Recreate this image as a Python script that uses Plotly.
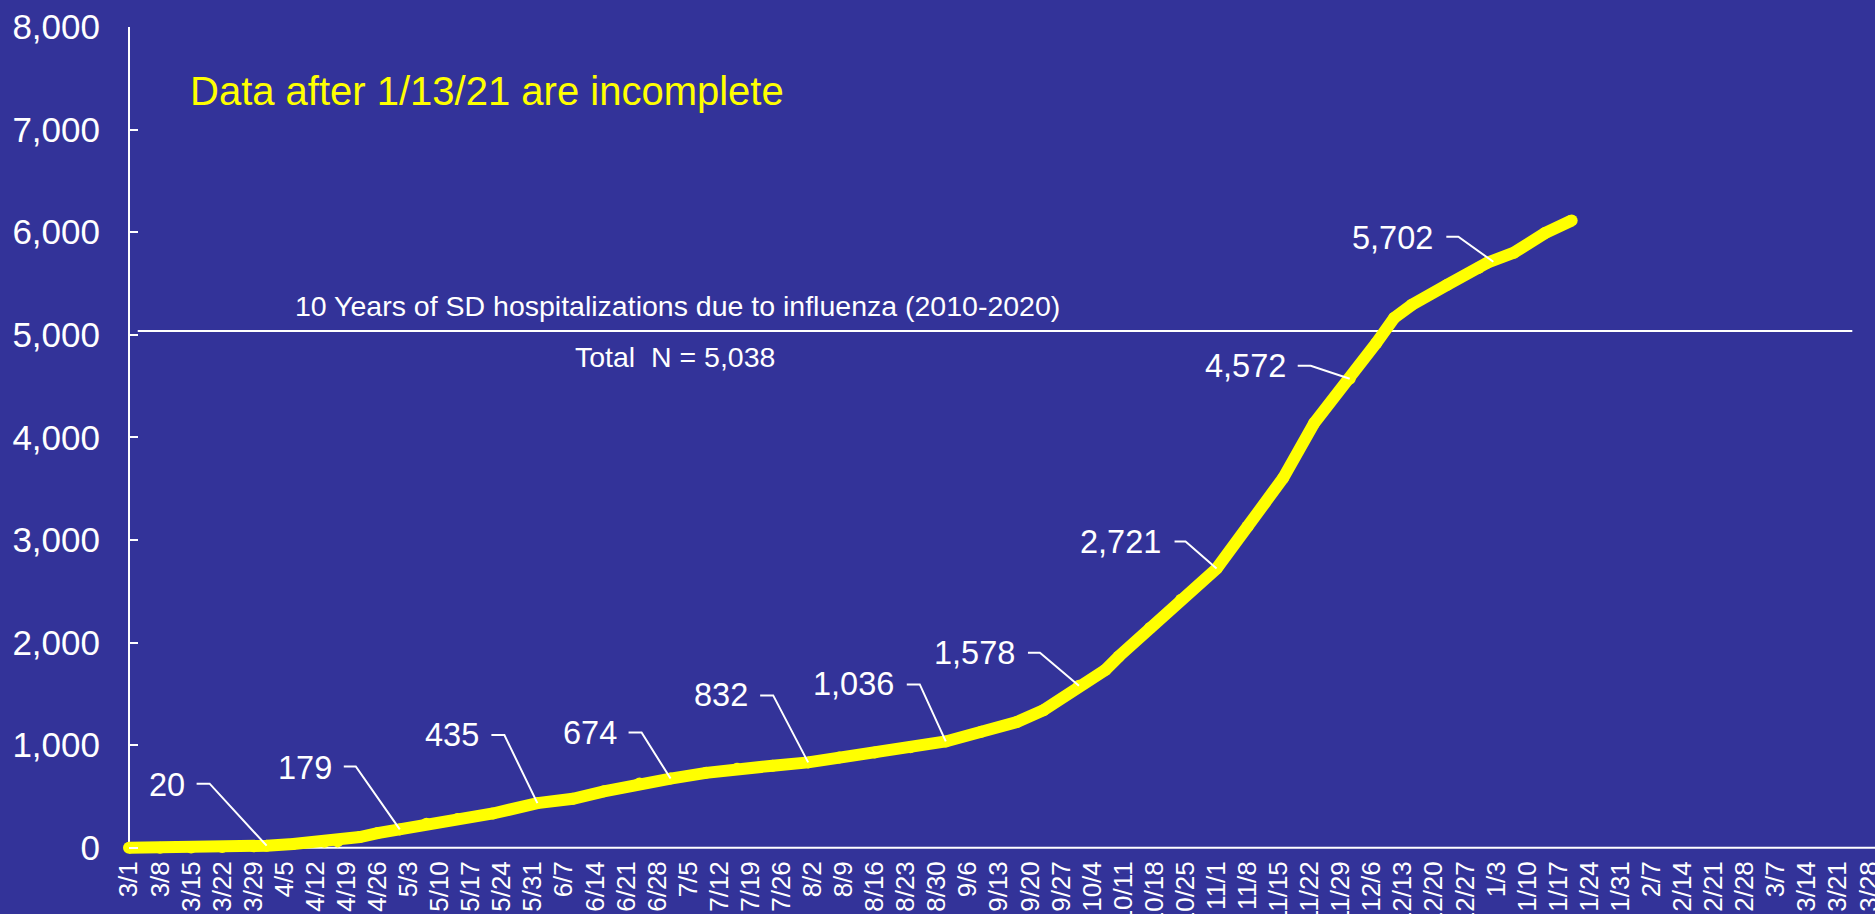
import plotly.graph_objects as go

# ---- data ----
dates = ["2020-03-01", "2020-03-08", "2020-03-15", "2020-03-22", "2020-03-29", "2020-04-01",
         "2020-04-07", "2020-04-14", "2020-04-17", "2020-04-22", "2020-04-26", "2020-05-01",
         "2020-05-07", "2020-05-14", "2020-05-22", "2020-06-01", "2020-06-09", "2020-06-16",
         "2020-06-24", "2020-07-01", "2020-07-09", "2020-07-16", "2020-07-24", "2020-08-01",
         "2020-08-08", "2020-08-16", "2020-08-24", "2020-09-01", "2020-09-09", "2020-09-17",
         "2020-09-23", "2020-10-01", "2020-10-07", "2020-10-10", "2020-10-17", "2020-10-24",
         "2020-11-01", "2020-11-08", "2020-11-16", "2020-11-23", "2020-12-01", "2020-12-07",
         "2020-12-11", "2020-12-15", "2020-12-23", "2020-12-30", "2021-01-01", "2021-01-07",
         "2021-01-14", "2021-01-20"]
cumulative = [0, 1, 3, 7, 14, 20,
              36, 58, 62, 104, 143, 179,
              234, 279, 334, 435, 477, 550,
              626, 674, 730, 770, 800, 832,
              880, 929, 980, 1036, 1130, 1225,
              1340, 1578, 1735, 1865, 2141, 2417,
              2721, 3132, 3603, 4139, 4572, 4920,
              5164, 5292, 5487, 5650, 5702, 5800,
              5991, 6114]

label_dates = ["2020-04-01", "2020-05-01", "2020-06-01", "2020-07-01", "2020-08-01",
               "2020-09-01", "2020-10-01", "2020-11-01", "2020-12-01", "2021-01-01"]
label_values = [20, 179, 435, 674, 832, 1036, 1578, 2721, 4572, 5702]

flu_total = 5038
title_text = "Data after 1/13/21 are incomplete"
flu_text = "10 Years of SD hospitalizations due to influenza (2010-2020)"
flu_total_text = "Total\u00a0 N = 5,038"

# ---- styling / leader-line geometry (pixels, relative to labelled point) ----
BG = "#333399"
YEL = "#FFFF00"
FONT = "Liberation Sans, Arial, sans-serif"
# (segment start dx, elbow dx, elbow dy, end dx, end dy, text right dx, text dy)
leader = [(-70, -57, 62, 0, 0, -80, 61),
          (-56, -44, 63, 0, 0, -66, 61),
          (-46, -33, 68, 0, 0, -56, 68),
          (-42, -29, 46, 0, 0, -52, 46),
          (-48, -35, 67, 0, 0, -58, 67),
          (-39, -26, 57, 0, 0, -50, 57),
          (-51, -39, 33, 0, 0, -62, 33),
          (-42, -31, 27, 0, 0, -54, 27),
          (-52, -39, 13, 0, 0, -62, 13),
          (-41, -29, 26, 6, 1, -52, 25)]

fig = go.Figure()
fig.add_trace(go.Scatter(
    x=dates, y=cumulative, mode="lines+markers",
    line=dict(color=YEL, width=12),
    marker=dict(color=YEL, size=12),
    cliponaxis=False, showlegend=False, hoverinfo="x+y"))

for d, v, g in zip(label_dates, label_values, leader):
    sx, ex, ey, px, py, tx, ty = g
    fig.add_shape(type="path", xref="x", yref="y",
                  xsizemode="pixel", ysizemode="pixel",
                  xanchor=d, yanchor=v,
                  path=f"M {sx},{ey} L {ex},{ey} L {px},{py}",
                  line=dict(color="white", width=2), layer="above")
    fig.add_annotation(x=d, y=v, xref="x", yref="y", text=f"{v:,}",
                       showarrow=False, xanchor="right", yanchor="middle",
                       xshift=tx, yshift=ty,
                       font=dict(family=FONT, size=32.5, color="white"))

# axis lines (drawn as shapes so the thick curve is not clipped at zero)
fig.add_shape(type="line", xref="paper", yref="y", x0=0, x1=1, y0=0, y1=0,
              line=dict(color="white", width=2), layer="below")
fig.add_shape(type="line", xref="paper", yref="y", x0=0, x1=0, y0=0, y1=8000,
              line=dict(color="white", width=2), layer="below")

# influenza reference line
fig.add_shape(type="line", xref="paper", yref="y", x0=0.005, x1=0.987,
              y0=flu_total, y1=flu_total, line=dict(color="white", width=2),
              layer="below")
fig.add_annotation(x=0.314, y=0.664, xref="paper", yref="y domain", text=flu_text,
                   showarrow=False, xanchor="center", yanchor="middle",
                   font=dict(family=FONT, size=28.5, color="white"))
fig.add_annotation(x=0.313, y=0.603, xref="paper", yref="y domain", text=flu_total_text,
                   showarrow=False, xanchor="center", yanchor="middle",
                   font=dict(family=FONT, size=28.5, color="white"))
fig.add_annotation(x=0.034, y=0.923, xref="paper", yref="y domain", text=title_text,
                   showarrow=False, xanchor="left", yanchor="middle",
                   font=dict(family=FONT, size=40, color=YEL))

fig.update_layout(
    width=1875, height=914,
    margin=dict(l=129, r=0, t=27, b=56),
    paper_bgcolor=BG, plot_bgcolor=BG,
    font=dict(family=FONT, color="white"),
    showlegend=False,
)
fig.update_xaxes(
    type="date", range=["2020-03-01", "2021-03-29 08:00"],
    tick0="2020-03-01", dtick=7 * 86400000, tickformat="%-m/%-d",
    tickangle=-90, tickfont=dict(family=FONT, size=26, color="white"),
    showline=False, showgrid=False, zeroline=False, ticks="",
    ticklabelstandoff=-3, automargin=False, ticklabeloverflow="allow",
)
fig.update_yaxes(
    range=[-100, 8000], tick0=0, dtick=1000, tickformat=",",
    tickfont=dict(family=FONT, size=35, color="white"),
    showline=False,
    ticks="inside", ticklen=9, tickwidth=2, tickcolor="white",
    showgrid=False, zeroline=False, ticklabelstandoff=28, automargin=False,
)

fig.write_html("out.html",
               config={"displayModeBar": False},
               post_script="document.body.style.margin='0';"
                           "document.body.style.overflow='hidden';")
